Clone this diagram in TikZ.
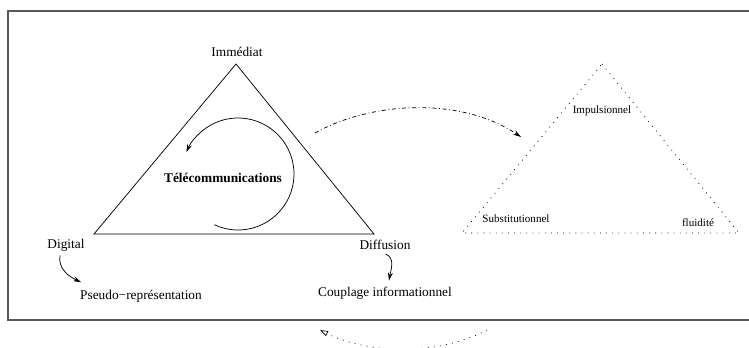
\documentclass[tikz,border=0pt]{standalone}
\usepackage{fontspec}
\setmainfont{Liberation Serif}
\usetikzlibrary{arrows.meta}

\tikzset{
  lbl/.style={inner sep=1pt, font=\fontsize{10}{12}\selectfont},
  small lbl/.style={inner sep=1pt, font=\fontsize{8.3}{10}\selectfont},
  fig arrow/.style={-{Stealth[length=6pt,width=3.6pt]}},
  sparse dots/.style={dash pattern=on 0.6pt off 4pt, line width=0.6pt},
  dashdot line/.style={dash pattern=on 3pt off 2pt on 0.6pt off 2pt},
}

\begin{document}
\begin{tikzpicture}[x=0.75pt, y=0.75pt, line width=0.55pt]
    \useasboundingbox (0,0) rectangle (749,347);
    \clip (0,0) rectangle (749,347);
    \draw[black!65, line width=0.9pt] (8,27) rectangle (760,336);

    % triangle of the telecommunications
    \draw (236,283) coordinate (imm) -- (374,113) coordinate (dif)
    -- (94,113) coordinate (dig) -- cycle
    ;
    \node[lbl] (immediat) at (237,295) {Immédiat};
    \node[lbl] (digital) at (66,102) {Digital};
    \node[lbl] (diffusion) at (385,102) {Diffusion};
    \node[lbl] (pseudo) at (141,51) {Pseudo\textminus représentation};
    \node[lbl] (couplage) at (385,54) {Couplage informationnel};
    \node[lbl, font=\bfseries] (telecom) at (223,169) {Télécommunications};

    \draw[fig arrow] (238,173) ++(-115:42pt) arc[start angle=-115, end angle=157, radius=42pt];
    \draw[fig arrow] ([xshift=-4.5pt, yshift=-2pt]digital.south)
    to[out=-100, in=155] ([shift={(2pt,4.5pt)}]pseudo.north west);
    \draw[fig arrow] ([xshift=0.5pt, yshift=-2pt]diffusion.south)
    to[out=-20, in=80] ([shift={(3pt,3.5pt)}]couplage.north);

    % dotted triangle
    \draw[sparse dots] (602,283) coordinate (top) -- (739,114) coordinate (right)
    -- (462,114) coordinate (left) -- cycle
    ;
    \node[small lbl] (impuls) at (602,236) {Impulsionnel};
    \node[small lbl] (subst) at (516,128) {Substitutionnel};
    \node[small lbl] (fluid) at (698,124) {fluidité};

    % passage arrows
    \coordinate (from) at (315,214);
    \coordinate (to) at (521,210);
    \draw[dashdot line, fig arrow] (from) .. controls (370,245) and (460,251) .. (to);
    \coordinate (back) at (487,17);
    \coordinate (backend) at (320,17);
    \draw[sparse dots, -{Triangle[open, length=6pt, width=4pt, line width=0.5pt]}]
    (back) .. controls (440,-8) and (370,-8) .. (backend);
\end{tikzpicture}
\end{document}
